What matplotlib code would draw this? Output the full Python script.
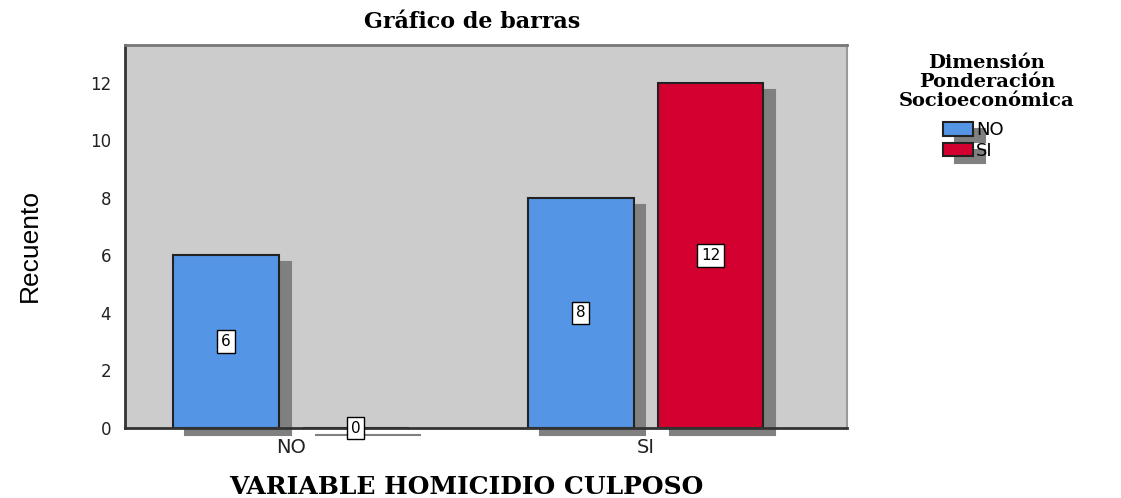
import numpy as np
import matplotlib
matplotlib.use("Agg")
import matplotlib.pyplot as plt
import matplotlib.patheffects as pe

# Data
categories = ["NO", "SI"]
series_names = ["NO", "SI"]
counts_no = [6, 8]    # Dimensión = NO
counts_si = [0, 12]   # Dimensión = SI
colors = ["#5595e5", "#d4002f"]

fig = plt.figure(figsize=(11.21, 4.98), dpi=100)
ax = fig.add_axes([125 / 1121, 70 / 498, 722 / 1121, 383 / 498])
ax.set_facecolor("#cccccc")

x = np.arange(len(categories))
width = 0.298
offset = 0.183

shadow = [pe.SimplePatchShadow(offset=(8.6, -5), shadow_rgbFace="#808080",
                               alpha=1, foreground="#808080", linewidth=1.5),
          pe.Normal()]

bars = []
for vals, off, col, name in zip([counts_no, counts_si], [-offset, offset], colors, series_names):
    b = ax.bar(x + off, vals, width, color=col, edgecolor="#222222", linewidth=1.5,
               label=name, clip_on=False)
    for p in b.patches:
        p.set_path_effects(shadow)
    bars.append(b)
    for xi, v in zip(x + off, vals):
        ax.text(xi, v / 2, str(v), ha="center", va="center", fontsize=11,
                family="DejaVu Sans", zorder=5,
                bbox=dict(boxstyle="square,pad=0.25", fc="white", ec="black", lw=1))

ax.set_xlim(-0.468, 1.568)
ax.set_ylim(0, 13.32)
ax.set_yticks(range(0, 13, 2))
ax.set_xticks(x)
ax.set_xticklabels(categories)
ax.tick_params(axis="y", length=0, pad=10, labelsize=12, labelcolor="#222222")
ax.tick_params(axis="x", length=0, pad=7, labelsize=14, labelcolor="#222222")

for side in ["left", "bottom"]:
    ax.spines[side].set_color("#333333")
    ax.spines[side].set_linewidth(2)
ax.spines["top"].set_color("#777777")
ax.spines["top"].set_linewidth(2)
ax.spines["right"].set_color("#999999")
ax.spines["right"].set_linewidth(1.5)

fig.text(472 / 1121, 1 - 22 / 498, "Gráfico de barras", ha="center", va="center",
         fontsize=16, fontweight="bold", family="DejaVu Serif")
fig.text(466 / 1121, 1 - 487 / 498, "VARIABLE HOMICIDIO CULPOSO", ha="center", va="center",
         fontsize=18, fontweight="bold", family="DejaVu Serif")
fig.text(30 / 1121, 1 - 246 / 498, "Recuento", rotation=90, ha="center", va="center",
         fontsize=19, family="Liberation Sans")

# legend title as its own text, entries below it
fig.text(987 / 1121, 1 - 82 / 498, "Dimensión\nPonderación\nSocioeconómica",
         ha="center", va="center", multialignment="center", linespacing=1.08,
         fontsize=14, fontweight="bold", family="DejaVu Serif")
leg = fig.legend(handles=bars, labels=series_names, loc="upper left",
                 bbox_to_anchor=(943 / 1121, 1 - 121 / 498), frameon=False,
                 prop={"family": "DejaVu Sans", "size": 13},
                 handlelength=1.67, handleheight=0.78, handletextpad=0.15,
                 labelspacing=0.15, borderpad=0, borderaxespad=0)

fig.savefig("out.png", dpi=100)
